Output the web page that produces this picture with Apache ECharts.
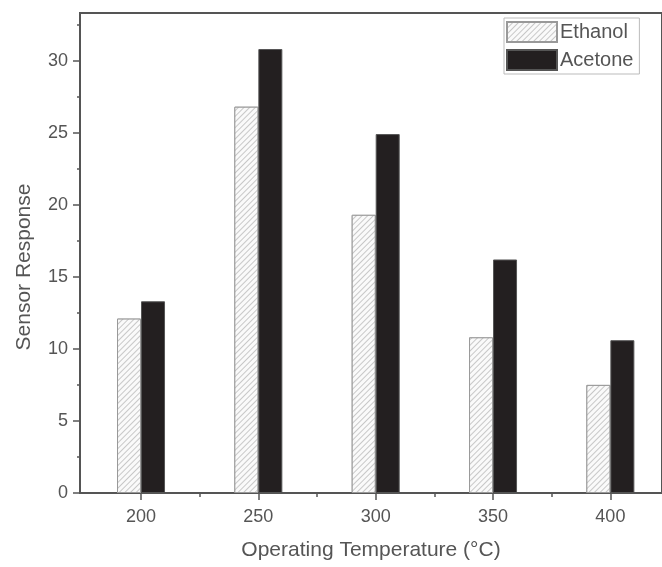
<!DOCTYPE html>
<html>
<head>
<meta charset="utf-8">
<script src="https://cdn.jsdelivr.net/npm/echarts@6/dist/echarts.min.js"></script>
<style>
  html, body { margin: 0; padding: 0; background: #fff; }
  #chart { width: 662px; height: 567px; }
</style>
</head>
<body>
<div id="chart"></div>
<script>
// 数据
const temperatures = [200, 250, 300, 350, 400];
const ethanol = [12.1, 26.8, 19.3, 10.8, 7.5];
const acetone = [13.3, 30.8, 24.9, 16.2, 10.6];
const xMajorTicks = [200, 250, 300, 350, 400];
const xMinorTicks = [225, 275, 325, 375];
const yMajorTicks = [0, 5, 10, 15, 20, 25, 30];
const yMinorTicks = [2.5, 7.5, 12.5, 17.5, 22.5, 27.5, 32.5];

const FONT = 'Liberation Sans';
const TEXT = '#555';
const LINE = '#555';

const chart = echarts.init(document.getElementById('chart'));

// 主刻度 / 副刻度用两根叠在一起的轴
const xBase = { type: 'value', min: 174, max: 422, gridIndex: 0, position: 'bottom' };
const yBase = { type: 'value', min: 0, max: 33.3, gridIndex: 0, position: 'left' };

const option = {
  animation: false,
  backgroundColor: '#fff',
  grid: {
    left: 80, right: -2, top: 13, bottom: 74,
    show: true, borderColor: LINE, borderWidth: 2, backgroundColor: 'transparent'
  },
  legend: {
    orient: 'vertical',
    left: 504, top: 18,
    icon: 'rect',
    itemWidth: 50, itemHeight: 20, itemGap: 6,
    padding: [3, 6, 3, 2],
    borderColor: '#bbb', borderWidth: 1,
    textStyle: { fontFamily: FONT, fontSize: 20, color: TEXT, padding: [0, 0, 0, -2] },
    data: ['Ethanol', 'Acetone']
  },
  xAxis: [
    Object.assign({}, xBase, {
      name: 'Operating Temperature (°C)',
      nameLocation: 'middle', nameGap: 47,
      nameTextStyle: { fontFamily: FONT, fontSize: 21, color: TEXT },
      axisLine: { show: true, lineStyle: { color: LINE, width: 2 } },
      axisTick: { show: true, length: 7, customValues: xMajorTicks, lineStyle: { color: LINE, width: 1.5 } },
      axisLabel: { customValues: xMajorTicks, margin: 15, fontFamily: FONT, fontSize: 18, color: TEXT },
      splitLine: { show: false }
    }),
    Object.assign({}, xBase, {
      axisLine: { show: false },
      axisTick: { show: true, length: 4, customValues: xMinorTicks, lineStyle: { color: LINE, width: 1.5 } },
      axisLabel: { show: false },
      splitLine: { show: false }
    })
  ],
  yAxis: [
    Object.assign({}, yBase, {
      name: 'Sensor Response',
      nameLocation: 'middle', nameGap: 45,
      nameTextStyle: { fontFamily: FONT, fontSize: 21, color: TEXT, padding: [0, 28, 0, 0] },
      axisLine: { show: true, lineStyle: { color: LINE, width: 2 } },
      axisTick: { show: true, length: 7, customValues: yMajorTicks, lineStyle: { color: LINE, width: 1.5 } },
      axisLabel: { customValues: yMajorTicks, margin: 12, fontFamily: FONT, fontSize: 18, color: TEXT },
      splitLine: { show: false }
    }),
    Object.assign({}, yBase, {
      axisLine: { show: false },
      axisTick: { show: true, length: 3, customValues: yMinorTicks, lineStyle: { color: LINE, width: 1.5 } },
      axisLabel: { show: false },
      splitLine: { show: false }
    })
  ],
  series: [
    {
      name: 'Ethanol',
      type: 'bar',
      xAxisIndex: 0, yAxisIndex: 0,
      barWidth: 24, barGap: '0%',
      data: temperatures.map((t, i) => [t, ethanol[i]]),
      itemStyle: {
        color: '#fff',
        borderColor: '#999', borderWidth: 1,
        decal: {
          symbol: 'rect', symbolSize: 1,
          rotation: -Math.PI / 4,
          dashArrayX: [1, 0], dashArrayY: [1, 3],
          color: '#c8c8c8', backgroundColor: '#fafafa'
        }
      }
    },
    {
      name: 'Acetone',
      type: 'bar',
      xAxisIndex: 0, yAxisIndex: 0,
      barWidth: 24, barGap: '0%',
      data: temperatures.map((t, i) => [t, acetone[i]]),
      itemStyle: { color: '#231f20', borderColor: '#555', borderWidth: 1 }
    }
  ]
};

chart.setOption(option);
</script>
</body>
</html>
